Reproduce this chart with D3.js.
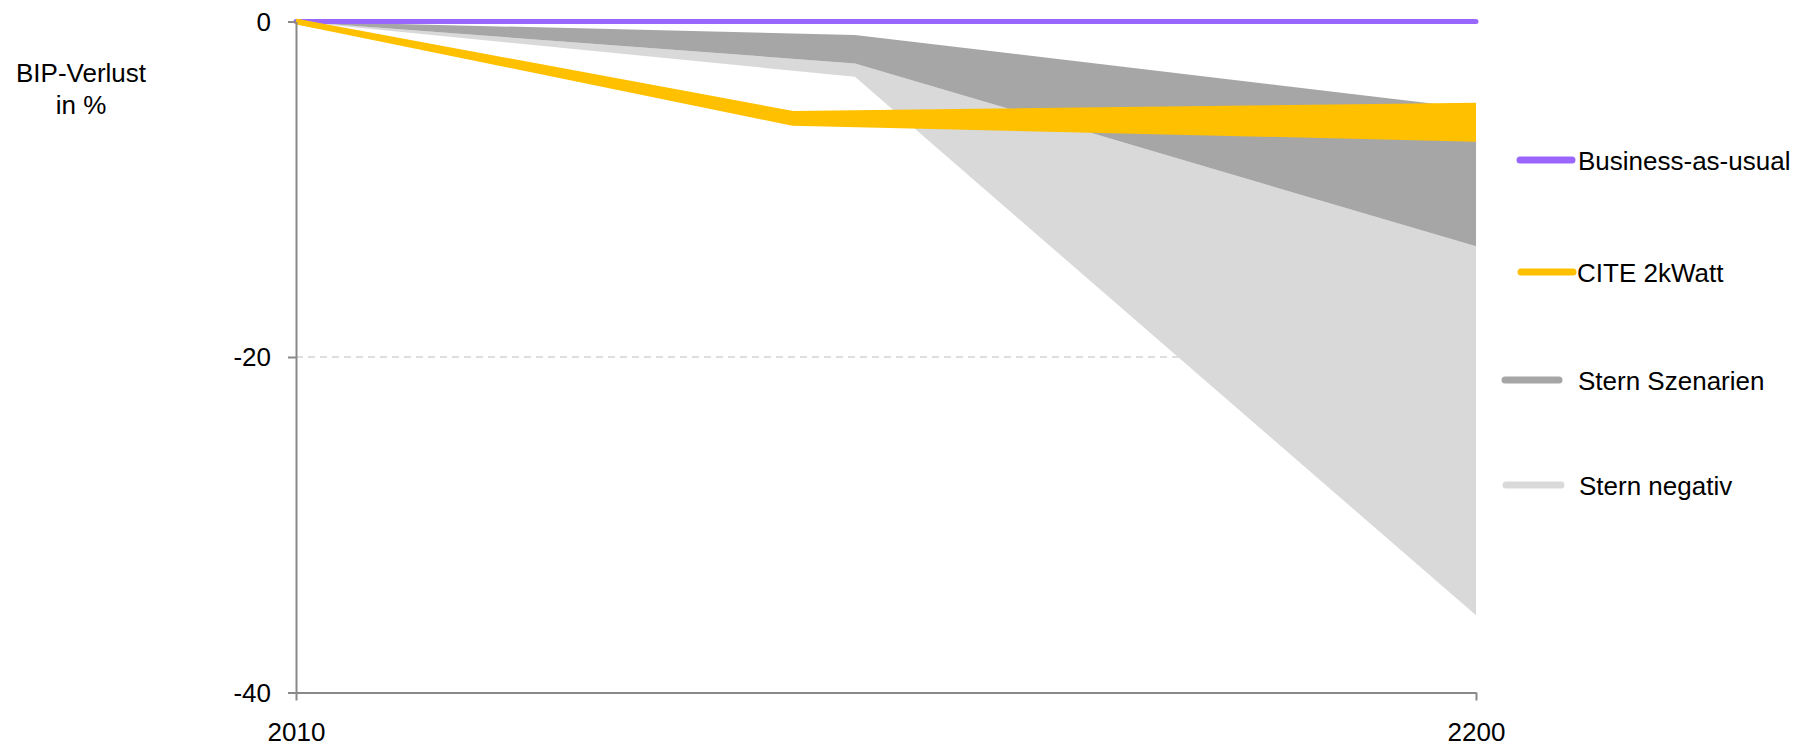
<!DOCTYPE html>
<html>
<head>
<meta charset="utf-8">
<script src="https://cdn.jsdelivr.net/npm/d3@7"></script>
<style>
  html, body { margin: 0; padding: 0; background: #fff; }
  svg { display: block; }
  text { font-family: "Liberation Sans", Arial, sans-serif; fill: #000; }
</style>
</head>
<body>
<svg id="chart" width="1801" height="746"></svg>
<script>
// ---- data ----
const xTicks = [2010, 2200];
const yTicks = [0, -20, -40];
const gridValues = [0, -20];

const bauYears = [2010, 2200];
const bauValues = [0, 0];

const citeYears = [2010, 2090, 2200];
const citeUpper = [0, -5.5, -5.0];
const citeLower = [0, -6.05, -7.0];

const sternYears = [2010, 2100, 2200];
const sternUpper = [0, -0.8, -5.2];
const sternLower = [0, -2.5, -13.4];
const sternNegLower = [0, -3.3, -35.4];

const legendLabels = ["Business-as-usual", "CITE 2kWatt", "Stern Szenarien", "Stern negativ"];
const legendColors = ["#9966FF", "#FFC000", "#A6A6A6", "#D9D9D9"];

// ---- layout ----
const svg = d3.select("#chart");
const x = d3.scaleLinear().domain([2010, 2200]).range([296, 1476]);
const y = d3.scaleLinear().domain([0, -40]).range([21.5, 692.5]);

// gridlines
svg.append("g").selectAll("line").data(gridValues).join("line")
  .attr("x1", x(2010)).attr("x2", x(2200))
  .attr("y1", d => y(d)).attr("y2", d => y(d))
  .attr("stroke", "#d4d4d4").attr("stroke-width", 1.5)
  .attr("stroke-dasharray", "7,5");

// Stern areas
const sternData = sternYears.map((yr, i) => ({yr, up: sternUpper[i], lo: sternLower[i], neg: sternNegLower[i]}));
svg.append("path").datum(sternData)
  .attr("fill", "#D9D9D9")
  .attr("d", d3.area().x(d => x(d.yr)).y0(d => y(d.lo)).y1(d => y(d.neg)));
svg.append("path").datum(sternData)
  .attr("fill", "#A6A6A6")
  .attr("d", d3.area().x(d => x(d.yr)).y0(d => y(d.up)).y1(d => y(d.lo)));

// Business-as-usual
const bauData = bauYears.map((yr, i) => ({yr, v: bauValues[i]}));
svg.append("path").datum(bauData)
  .attr("fill", "none").attr("stroke", "#9966FF").attr("stroke-width", 5)
  .attr("stroke-linecap", "round")
  .attr("d", d3.line().x(d => x(d.yr)).y(d => y(d.v)));

// CITE 2kWatt band
const citeData = citeYears.map((yr, i) => ({yr, up: citeUpper[i], lo: citeLower[i]}));
svg.append("path").datum(citeData)
  .attr("fill", "#FFC000")
  .attr("d", d3.area().x(d => x(d.yr)).y0(d => y(d.up)).y1(d => y(d.lo)));
["up", "lo"].forEach(k => {
  svg.append("path").datum(citeData)
    .attr("fill", "none").attr("stroke", "#FFC000").attr("stroke-width", 5.5)
    .attr("stroke-linejoin", "round")
    .attr("d", d3.line().x(d => x(d.yr)).y(d => y(d[k])));
});

// axes
const axisColor = "#898989";
const fmt = d => String(d);
const yAxis = svg.append("g").attr("transform", `translate(${x(2010)},0)`)
  .call(d3.axisLeft(y).tickValues(yTicks).tickFormat(fmt).tickSize(8).tickSizeOuter(0).tickPadding(17));
const xAxis = svg.append("g").attr("transform", `translate(0,${y(-40)})`)
  .call(d3.axisBottom(x).tickValues(xTicks).tickFormat(fmt).tickSize(8).tickSizeOuter(0).tickPadding(22));
[yAxis, xAxis].forEach(g => {
  g.select(".domain").attr("stroke", axisColor).attr("stroke-width", 2);
  g.selectAll(".tick line").attr("stroke", axisColor).attr("stroke-width", 2);
  g.selectAll(".tick text").attr("font-size", 26).attr("font-family", "Liberation Sans, Arial, sans-serif").attr("fill", "#000");
});
yAxis.selectAll(".tick text").attr("dy", "0.34em");

// y axis title
const title = svg.append("text").attr("font-size", 26).attr("text-anchor", "middle");
title.append("tspan").attr("x", 81).attr("y", 82).text("BIP-Verlust");
title.append("tspan").attr("x", 81).attr("y", 113.5).text("in %");

// legend
const legendRows = [
  {x1: 1520, x2: 1572, ly: 160, tx: 1578},
  {x1: 1521, x2: 1573, ly: 272, tx: 1577},
  {x1: 1505, x2: 1559, ly: 380, tx: 1578},
  {x1: 1506, x2: 1561, ly: 485, tx: 1579}
];
const lg = svg.append("g");
legendRows.forEach((r, i) => {
  lg.append("line").attr("x1", r.x1).attr("x2", r.x2).attr("y1", r.ly).attr("y2", r.ly)
    .attr("stroke", legendColors[i]).attr("stroke-width", 7).attr("stroke-linecap", "round");
  lg.append("text").attr("x", r.tx).attr("y", r.ly + 9.5).attr("font-size", 26).text(legendLabels[i]);
});
</script>
</body>
</html>
